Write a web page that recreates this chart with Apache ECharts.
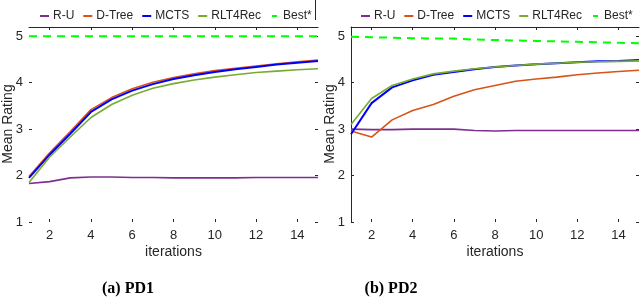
<!DOCTYPE html>
<html><head><meta charset="utf-8">
<script src="https://cdn.jsdelivr.net/npm/echarts@6/dist/echarts.min.js"></script>
<style>html,body{margin:0;padding:0;background:#fff}#c{width:640px;height:300px}</style>
</head><body><div id="c"></div>
<script>
const iterations = [1,2,3,4,5,6,7,8,9,10,11,12,13,14,15];
const yTicks = [1,2,3,4,5];
const seriesNames = ['R-U','D-Tree','MCTS','RLT4Rec','Best*'];
const captions = ['(a) PD1','(b) PD2'];

// PD1
const pd1_RU    = [1.83,1.87,1.95,1.97,1.97,1.96,1.96,1.95,1.95,1.95,1.95,1.96,1.96,1.96,1.96];
const pd1_DTree = [1.98,2.49,2.95,3.42,3.68,3.87,4.01,4.11,4.19,4.26,4.31,4.36,4.41,4.45,4.49];
const pd1_MCTS  = [1.95,2.45,2.90,3.37,3.64,3.83,3.97,4.08,4.16,4.23,4.29,4.34,4.39,4.43,4.47];
const pd1_RLT   = [1.85,2.40,2.83,3.25,3.53,3.73,3.88,3.98,4.06,4.12,4.17,4.22,4.25,4.28,4.30];
const pd1_Best  = [5,5,5,5,5,5,5,5,5,5,5,5,5,5,5];

// PD2
const pd2_RU    = [3.00,2.99,2.99,3.00,3.00,3.00,2.97,2.96,2.97,2.97,2.97,2.97,2.97,2.97,2.97];
const pd2_DTree = [2.96,2.83,3.20,3.40,3.53,3.71,3.85,3.94,4.03,4.08,4.12,4.17,4.21,4.24,4.27];
const pd2_MCTS  = [2.89,3.56,3.90,4.05,4.17,4.23,4.29,4.34,4.37,4.40,4.42,4.44,4.46,4.47,4.49];
const pd2_RLT   = [3.10,3.66,3.94,4.08,4.19,4.25,4.30,4.34,4.37,4.40,4.42,4.44,4.45,4.46,4.47];
const pd2_Best  = [4.99,4.98,4.97,4.96,4.95,4.95,4.93,4.92,4.91,4.90,4.89,4.88,4.87,4.86,4.85];

const colors = {'R-U':'#7E2F8E','D-Tree':'#D95319','MCTS':'#0000FF','RLT4Rec':'#77AC30','Best*':'#00FF00'};
const widths = {'R-U':1.6,'D-Tree':1.6,'MCTS':2,'RLT4Rec':1.6,'Best*':2};

const FONT = 'Liberation Sans, Arial, Helvetica, sans-serif';
const evenOnly = (idx, val) => Number(val) % 2 === 0;
const yMin = yTicks[0], yMax = 5.2;

function xAxes(gi) {
  return [
    {gridIndex: gi, type:'category', data: iterations, boundaryGap:false, position:'bottom',
     axisLine:{show:false},
     axisTick:{show:true, inside:true, length:3, interval: evenOnly, lineStyle:{color:'#262626'}},
     axisLabel:{interval: evenOnly, color:'#262626', fontFamily:FONT, fontSize:13, margin:7},
     splitLine:{show:false}},
    {gridIndex: gi, type:'category', data: iterations, boundaryGap:false, position:'top',
     axisLine:{show:true, lineStyle:{color:'#262626'}},
     axisTick:{show:true, inside:true, length:3, interval: evenOnly, lineStyle:{color:'#262626'}},
     axisLabel:{show:false}, splitLine:{show:false}}
  ];
}
function yAxes(gi, showLeftLine) {
  const fmt = v => (Math.abs(v - Math.round(v)) < 1e-9 && yTicks.includes(Math.round(v))) ? String(Math.round(v)) : '';
  return [
    {gridIndex: gi, type:'value', min:yMin, max:yMax, interval:1, position:'left',
     axisLine:{show:showLeftLine, lineStyle:{color:'#262626'}},
     axisTick:{show:true, inside:true, length:3, lineStyle:{color:'#262626'}},
     axisLabel:{formatter: fmt, color:'#262626', fontFamily:FONT, fontSize:13, margin:6},
     splitLine:{show:false}},
    {gridIndex: gi, type:'value', min:yMin, max:yMax, interval:1, position:'right',
     axisLine:{show:false},
     axisTick:{show:true, inside:true, length:3, lineStyle:{color:'#262626'}},
     axisLabel:{show:false}, splitLine:{show:false}}
  ];
}
function mkSeries(gi, arrs) {
  return seriesNames.map((n, i) => ({
    name: n, type:'line', xAxisIndex: gi*2, yAxisIndex: gi*2, data: arrs[i],
    showSymbol:false, symbol:'none', animation:false,
    lineStyle:{color: colors[n], width: widths[n], type: n === 'Best*' ? [8,6] : 'solid'},
    itemStyle:{color: colors[n]}
  }));
}

const solidIcon = 'path://M0,4L9,4L9,6L0,6Z M0,0L0,0.01L0.01,0Z M0,10L0,9.99L0.01,10Z';
const shortIcon = 'path://M2,4L7,4L7,6L2,6Z M0,0L0,0.01L0.01,0Z M9,10L9,9.99L8.99,10Z';
const legendBase = {
  top: 5, itemWidth: 9, itemHeight: 10, itemGap: 9,
  itemStyle:{borderWidth:0},
  textStyle:{fontFamily:FONT, fontSize:12, color:'#262626', padding:[0,0,0,-1]},
  data: seriesNames.map(n => ({name:n, icon: n === 'Best*' ? shortIcon : solidIcon})),
  selectedMode:false
};

const chart = echarts.init(document.getElementById('c'));
chart.setOption({
  animation:false,
  grid:[
    {left:29, top:27, width:289, height:195},
    {left:351, top:27, width:288, height:195}
  ],
  xAxis: [...xAxes(0), ...xAxes(1)],
  yAxis: [...yAxes(0,false), ...yAxes(1,true)],
  legend:[Object.assign({}, legendBase, {left:35}), Object.assign({}, legendBase, {left:356})],
  series:[
    ...mkSeries(0,[pd1_RU,pd1_DTree,pd1_MCTS,pd1_RLT,pd1_Best]),
    ...mkSeries(1,[pd2_RU,pd2_DTree,pd2_MCTS,pd2_RLT,pd2_Best])
  ],
  graphic:[
    {type:'text', x:8, y:124, rotation:Math.PI/2, style:{text:'Mean Rating', font:'14px '+FONT, fill:'#262626', textAlign:'center', textVerticalAlign:'middle'}},
    {type:'text', x:330, y:124, rotation:Math.PI/2, style:{text:'Mean Rating', font:'14px '+FONT, fill:'#262626', textAlign:'center', textVerticalAlign:'middle'}},
    {type:'text', x:173.5, y:252, style:{text:'iterations', font:'14px '+FONT, fill:'#262626', textAlign:'center', textVerticalAlign:'middle'}},
    {type:'text', x:495, y:252, style:{text:'iterations', font:'14px '+FONT, fill:'#262626', textAlign:'center', textVerticalAlign:'middle'}},
    {type:'text', x:128, y:289, style:{text:captions[0], font:'bold 16px "Liberation Serif", serif', fill:'#000', textAlign:'center', textVerticalAlign:'middle'}},
    {type:'text', x:391, y:289, style:{text:captions[1], font:'bold 16px "Liberation Serif", serif', fill:'#000', textAlign:'center', textVerticalAlign:'middle'}},
    {type:'line', shape:{x1:315.5, y1:0, x2:315.5, y2:20}, style:{stroke:'#262626', lineWidth:1}}
  ]
});
</script></body></html>
